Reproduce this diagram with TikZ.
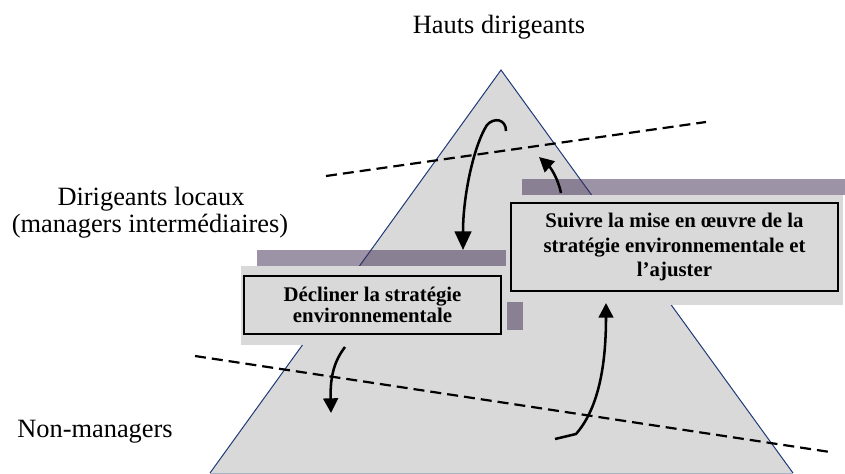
\documentclass[tikz,border=0pt]{standalone}
\usepackage{fontspec}
\setmainfont{Liberation Serif}
\usetikzlibrary{arrows.meta}
\definecolor{trifill}{HTML}{D9D9D9}
\definecolor{edgeblue}{HTML}{1F3A78}
\definecolor{baseedge}{HTML}{A8B0C4}
\definecolor{shadecol}{RGB}{60,40,80}
\begin{document}
\begin{tikzpicture}[x=0.75pt,y=-0.75pt,
  lbl/.style={font=\fontsize{19.8}{20.25}\selectfont, inner sep=0pt, anchor=base},
  bar/.style={fill=shadecol, fill opacity=0.5, draw=none},
  halo/.style={fill=trifill, draw=none},
  boxtext/.style={draw=black, line width=1.5pt, fill=trifill, align=center, inner sep=0pt},
  flow/.style={line width=1.9pt, -{Triangle[width=11pt,length=11pt]}},
  divider/.style={line width=1.65pt, dash pattern=on 8.25pt off 4.5pt}
]
\useasboundingbox (0,0) rectangle (845,474);
% pyramid
\coordinate (apex) at (501,70);
\coordinate (bl) at (210,473);
\coordinate (br) at (793,473);
\fill[trifill] (apex) -- (br) -- (bl) -- cycle;
\draw[edgeblue, line width=0.75pt] (bl) -- (apex) -- (br);
\draw[baseedge, line width=0.75pt] (bl) -- (br);
% dividers
\coordinate (d1a) at (326,176);
\coordinate (d1b) at (706,122);
\coordinate (d2a) at (195,356);
\coordinate (d2b) at (830,452);
\draw[divider] (d1a) -- (d1b);
\draw[divider] (d2a) -- (d2b);
% right box background
\fill[halo] (506,195) rectangle (843,305);
% left box group
\fill[halo] (241,266) rectangle (507,345);
\fill[bar] (257,250) rectangle (506,266);
\fill[bar] (507,302) rectangle (523,330);
\node[boxtext, minimum width=192.75pt, minimum height=43.5pt,
      font=\bfseries\fontsize{15.6}{16}\selectfont] (decl) at (372.5,305)
  {Décliner la stratégie\\environnementale};
% right box group
\fill[bar] (522,179) rectangle (845,195);
\node[boxtext, minimum width=245.25pt, minimum height=66pt,
      font=\bfseries\fontsize{15.6}{18.4}\selectfont] (suiv) at (674.5,247)
  {Suivre la mise en œuvre de la\\stratégie environnementale et\\l’ajuster};
% labels
\node[lbl] (top) at (499,34) {Hauts dirigeants};
\node[lbl] (mid1) at (151,205) {Dirigeants locaux};
\node[lbl] (mid2) at (150,232) {(managers intermédiaires)};
\node[lbl] (low) at (95,437) {Non-managers};
% arrows
\coordinate (a1s) at (506,131);
\coordinate (a1e) at (463,250);
\draw[flow, -{Triangle[width=12.5pt,length=14pt]}] (a1s) .. controls (506,119) and (494,117) .. (487,125) .. controls (474,145) and (463,195) .. (a1e);
\coordinate (a2s) at (561,193);
\coordinate (a2e) at (539,157);
\draw[flow] (a2s) .. controls (558,178) and (550,167) .. (a2e);
\coordinate (a3s) at (345,347);
\coordinate (a3e) at (331,413);
\draw[flow] (a3s) .. controls (335,360) and (330,375) .. (a3e);
\coordinate (a4s) at (555,439);
\coordinate (a4k) at (576,434);
\coordinate (a4e) at (606,303);
\draw[flow] (a4s) -- (a4k) .. controls (597,410) and (606,370) .. (a4e);
\end{tikzpicture}
\end{document}
